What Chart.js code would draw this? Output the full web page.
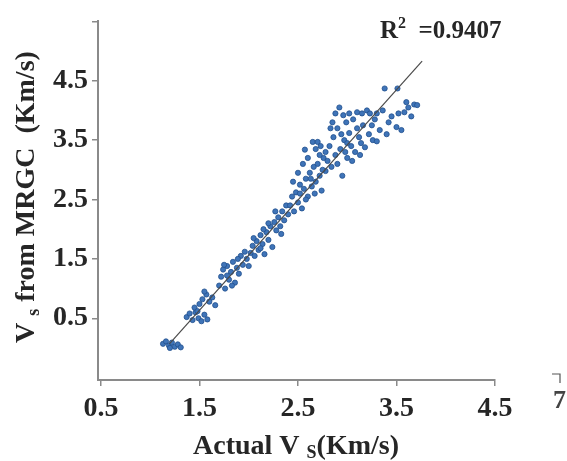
<!DOCTYPE html>
<html>
<head>
<meta charset="utf-8">
<script src="https://cdn.jsdelivr.net/npm/chart.js@4.4.1/dist/chart.umd.min.js"></script>
<style>
  html, body { margin: 0; padding: 0; background: #fff; }
  canvas { display: block; }
</style>
</head>
<body>
<canvas id="vsChart" width="567" height="461"></canvas>
<script>
// Actual Vs (x) vs Vs predicted from MRGC (y)
const actualVs = [
  1.13, 1.16, 1.19, 1.22, 1.25, 1.28, 1.31, 1.20,
  1.37, 1.40, 1.43, 1.46, 1.49, 1.52, 1.55, 1.58, 1.45, 1.50, 1.53, 1.57, 1.60, 1.63, 1.66, 1.55, 1.48,
  1.70, 1.72, 1.74, 1.76, 1.78, 1.80, 1.82, 1.84, 1.86, 1.88, 1.90, 1.92, 1.94, 1.96, 1.98, 1.78, 1.83, 1.89, 2.00, 1.75,
  2.02, 2.04, 2.06, 2.08, 2.10, 2.12, 2.14, 2.16, 2.18, 2.20, 2.22, 2.24, 2.26, 2.28, 2.30, 2.32, 2.34, 2.36, 2.38, 2.40, 2.12, 2.20, 2.27, 2.33, 2.15, 2.05,
  2.42, 2.44, 2.46, 2.48, 2.50, 2.52, 2.54, 2.56, 2.58, 2.60, 2.62, 2.64, 2.66, 2.68, 2.70, 2.72, 2.74, 2.76, 2.78, 2.80, 2.45, 2.50, 2.55, 2.57, 2.65, 2.70, 2.60, 2.68, 2.72, 2.75, 2.58, 2.63, 2.67, 2.78, 2.52, 2.73,
  2.82, 2.84, 2.86, 2.88, 2.90, 2.92, 2.93, 2.95, 2.96, 2.97, 2.99, 3.00, 3.02, 3.04, 3.06, 3.08, 3.10, 3.12, 3.14, 3.16, 3.18, 3.20, 3.22, 3.23, 2.85, 2.88, 2.94, 3.00, 3.05, 3.10, 2.90, 3.15, 3.02, 2.83, 3.13, 2.98,
  3.26, 3.28, 3.30, 3.30, 3.33, 3.36, 3.38, 3.42, 3.45, 3.50, 3.51, 3.52, 3.55, 3.58, 3.60, 3.62, 3.65, 3.68, 3.71, 3.40, 3.25
];
const mrgcVs = [
  0.07, 0.11, 0.04, 0.09, 0.02, 0.06, 0.01, 0.00,
  0.52, 0.58, 0.47, 0.60, 0.50, 0.45, 0.56, 0.48, 0.68, 0.74, 0.82, 0.90, 0.78, 0.85, 0.72, 0.95, 0.62,
  1.05, 1.20, 1.32, 1.00, 1.38, 1.15, 1.28, 1.45, 1.10, 1.35, 1.25, 1.55, 1.40, 1.62, 1.50, 1.22, 1.05, 1.50, 1.38, 1.40,
  1.60, 1.72, 1.55, 1.80, 1.65, 1.90, 1.75, 1.58, 1.95, 1.82, 2.05, 1.70, 2.12, 1.98, 2.20, 2.05, 2.30, 2.15, 2.40, 2.25, 1.68, 2.10, 2.30, 1.92, 2.00, 1.85,
  2.40, 2.55, 2.30, 2.62, 2.45, 2.75, 2.35, 2.68, 2.85, 2.55, 2.95, 2.72, 3.05, 2.80, 3.10, 2.90, 2.65, 3.20, 2.98, 3.15, 2.80, 2.95, 3.10, 3.34, 3.47, 3.47, 3.20, 3.35, 3.25, 3.00, 2.50, 2.85, 2.60, 3.30, 2.60, 3.40,
  3.40, 3.05, 3.55, 3.25, 3.70, 4.05, 3.35, 2.90, 3.92, 3.50, 3.80, 3.20, 3.62, 3.40, 3.85, 3.30, 3.97, 3.55, 3.45, 3.75, 3.38, 4.00, 3.60, 3.95, 3.80, 3.95, 3.60, 3.45, 3.15, 3.70, 3.10, 3.95, 3.95, 3.70, 3.25, 3.30,
  3.50, 3.85, 3.95, 3.48, 3.67, 4.00, 4.37, 3.80, 3.90, 3.72, 4.37, 3.95, 3.67, 3.97, 4.14, 4.05, 3.90, 4.10, 4.09, 3.60, 3.75
];

// fitted trend line end points
const fitX = [1.195, 3.76];
const fitY = [0.07, 4.83];

const xTicks = [0.5, 1.5, 2.5, 3.5, 4.5];
const xTickLabels = ['0.5', '1.5', '2.5', '3.5', '4.5'];
const yTicks = [0.5, 1.5, 2.5, 3.5, 4.5, 5.5];
const yTickLabels = ['0.5', '1.5', '2.5', '3.5', '4.5', ''];

const SERIF = '"Liberation Serif", "Times New Roman", serif';
const AXIS_GRAY = '#8a8a8a';
const TEXT = '#262626';

// draws text made of runs (normal / sub / sup) one after the other
function drawRuns(ctx, runs, x, y) {
  let cx = x;
  runs.forEach(r => {
    ctx.font = 'bold ' + r.size + 'px ' + SERIF;
    ctx.fillText(r.text, cx, y + (r.dy || 0));
    cx += ctx.measureText(r.text).width;
  });
}

const labelsPlugin = {
  id: 'labels',
  afterDraw(chart) {
    const ctx = chart.ctx;
    ctx.save();
    ctx.fillStyle = TEXT;
    ctx.textBaseline = 'alphabetic';
    ctx.textAlign = 'left';

    // x axis title
    drawRuns(ctx, [
      { text: 'Actual V ', size: 28 },
      { text: 'S', size: 18, dy: 4 },
      { text: '(Km/s)', size: 28 }
    ], 193, 454);

    // y axis title, rotated
    ctx.save();
    ctx.translate(34, 343);
    ctx.rotate(-Math.PI / 2);
    drawRuns(ctx, [
      { text: 'V ', size: 28 },
      { text: 's', size: 18, dy: 5 },
      { text: ' from MRGC  (Km/s)', size: 28 }
    ], 0, 0);
    ctx.restore();

    // R squared
    drawRuns(ctx, [
      { text: 'R', size: 25 },
      { text: '2', size: 16, dy: -10 },
      { text: '  =0.9407', size: 25 }
    ], 380, 38);

    // stray mark at the right
    ctx.font = 'bold 26px ' + SERIF;
    ctx.fillStyle = '#444';
    ctx.fillText('7', 553, 408);
    ctx.strokeStyle = '#555';
    ctx.lineWidth = 1.2;
    ctx.beginPath();
    ctx.moveTo(552, 374);
    ctx.lineTo(560, 374);
    ctx.lineTo(560, 383);
    ctx.stroke();
    ctx.restore();
  }
};

const ctx = document.getElementById('vsChart');
new Chart(ctx, {
  type: 'scatter',
  data: {
    datasets: [
      {
        type: 'line',
        data: fitX.map((x, i) => ({ x: x, y: fitY[i] })),
        borderColor: '#4a4a4a',
        borderWidth: 1.2,
        pointRadius: 0,
        fill: false
      },
      {
        data: actualVs.map((x, i) => ({ x: x, y: mrgcVs[i] })),
        backgroundColor: '#3f74b8',
        borderColor: '#22508e',
        borderWidth: 0.8,
        pointRadius: 2.6
      }
    ]
  },
  options: {
    responsive: false,
    animation: false,
    layout: { padding: { top: 14, right: 72, left: 0, bottom: 0 } },
    plugins: {
      legend: { display: false },
      tooltip: { enabled: false }
    },
    scales: {
      x: {
        type: 'linear',
        min: 0.47,
        max: 4.5,
        afterBuildTicks: s => { s.ticks = xTicks.map(v => ({ value: v })); },
        afterFit: s => { s.height = 81; },
        grid: { drawOnChartArea: false, drawTicks: true, tickLength: 6, color: AXIS_GRAY, lineWidth: 1.5 },
        border: { color: AXIS_GRAY, width: 2 },
        ticks: {
          autoSkip: false,
          maxRotation: 0,
          padding: 6,
          color: TEXT,
          font: { family: SERIF, size: 28, weight: 'bold' },
          callback: (v, i) => xTickLabels[i]
        }
      },
      y: {
        type: 'linear',
        min: -0.54,
        max: 5.51,
        afterBuildTicks: s => { s.ticks = yTicks.map(v => ({ value: v })); },
        afterFit: s => { s.width = 98; },
        grid: { drawOnChartArea: false, drawTicks: true, tickLength: 6, color: AXIS_GRAY, lineWidth: 1.5 },
        border: { color: AXIS_GRAY, width: 2 },
        ticks: {
          autoSkip: false,
          padding: 4,
          color: TEXT,
          font: { family: SERIF, size: 28, weight: 'bold' },
          callback: (v, i) => yTickLabels[i]
        }
      }
    }
  },
  plugins: [labelsPlugin]
});
</script>
</body>
</html>
